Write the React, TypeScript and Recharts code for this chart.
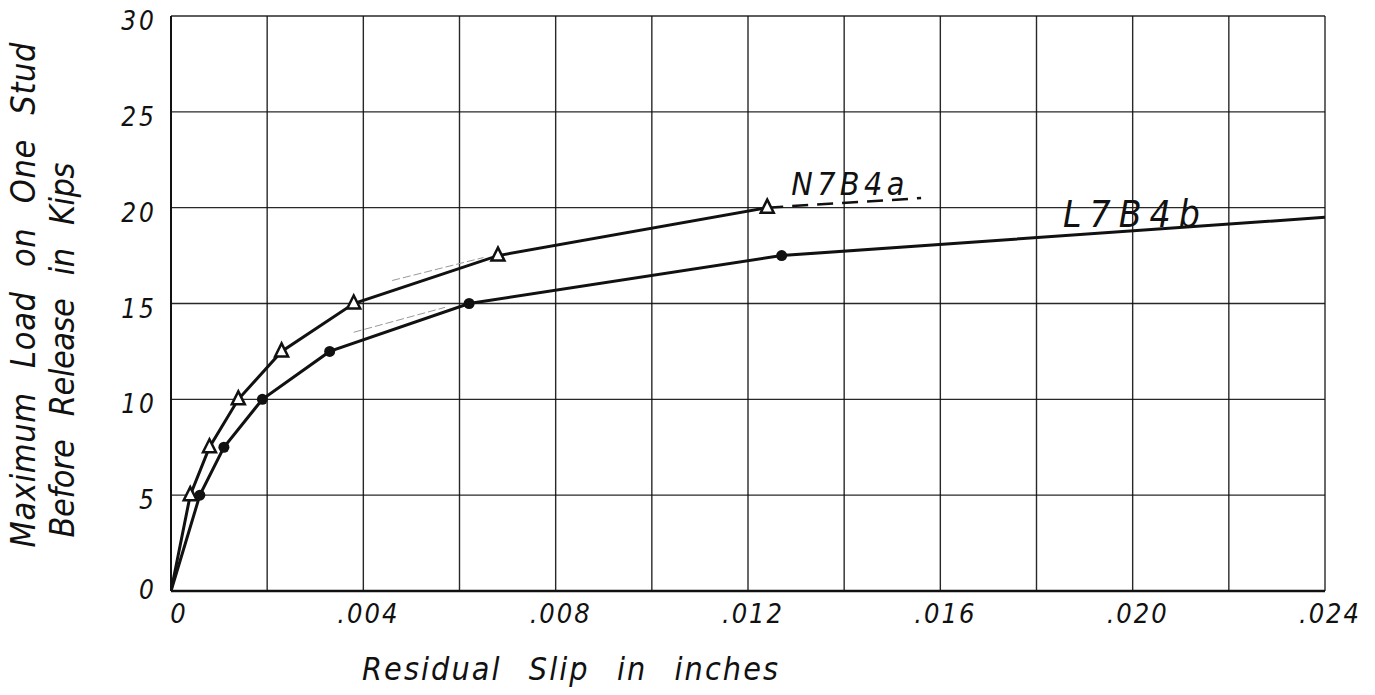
import { LineChart, Line, XAxis, YAxis, CartesianGrid, ReferenceDot, Label } from "recharts";

// axis ticks: grid every .002 in. / 5 kips, labels every .004 in.
const slipTicks = [0, 0.002, 0.004, 0.006, 0.008, 0.01, 0.012, 0.014, 0.016, 0.018, 0.02, 0.022, 0.024];
const loadTicks = [0, 5, 10, 15, 20, 25, 30];

// specimen N7B4a (open triangles)
const n7b4aSlip = [0, 0.0004, 0.0008, 0.0014, 0.0023, 0.0038, 0.0068, 0.0124];
const n7b4aLoad = [0, 5, 7.5, 10, 12.5, 15, 17.5, 20];

// specimen L7B4b (solid dots); the last point is the extended curve, no marker
const l7b4bSlip = [0, 0.0006, 0.0011, 0.0019, 0.0033, 0.0062, 0.0127, 0.024];
const l7b4bLoad = [0, 5, 7.5, 10, 12.5, 15, 17.5, 19.5];

// dashed continuation of N7B4a under its label
const n7b4aExtSlip = [0.0124, 0.0156];
const n7b4aExtLoad = [20, 20.5];

// faint pencil construction lines
const pencilASlip = [0.0046, 0.0065];
const pencilALoad = [16.2, 17.4];
const pencilBSlip = [0.0038, 0.0057];
const pencilBLoad = [13.5, 14.8];

const pts = (xs: number[], ys: number[]) => xs.map((slip, i) => ({ slip, load: ys[i] }));

const FONT = "'DejaVu Sans Condensed', 'DejaVu Sans', sans-serif";
const INK = "#111";

const fmtSlip = (v: number) => (v === 0 ? "0" : v.toFixed(3).replace(/^0/, ""));

function SlipTick(props: any) {
  const { x, y, payload } = props;
  const v = payload.value as number;
  if (Math.round(v * 1000) % 4 !== 0) return <g />;
  return (
    <text x={x + (v === 0 ? 8 : 5)} y={y + 24} textAnchor="middle" fontFamily={FONT} fontStyle="italic"
      fontSize={27} letterSpacing={2} fill={INK}>
      {fmtSlip(v)}
    </text>
  );
}

function LoadTick(props: any) {
  const { x, y, payload } = props;
  return (
    <text x={x - 6} y={y + (payload.value === 0 ? 8 : 14)} textAnchor="end" fontFamily={FONT} fontStyle="italic"
      fontSize={26} letterSpacing={3} fill={INK}>
      {payload.value}
    </text>
  );
}

function Triangle(props: any) {
  const { cx, cy, index } = props;
  if (index === 0 || cx == null) return <g key={`t${index}`} />;
  return (
    <polygon key={`t${index}`} points={`${cx},${cy - 8} ${cx - 6.5},${cy + 5} ${cx + 6.5},${cy + 5}`}
      fill="#fff" stroke={INK} strokeWidth={2.5} strokeLinejoin="miter" />
  );
}

function Dot(props: any) {
  const { cx, cy, index } = props;
  if (index === 0 || index === l7b4bSlip.length - 1 || cx == null) return <g key={`d${index}`} />;
  return <circle key={`d${index}`} cx={cx} cy={cy} r={5.5} fill={INK} />;
}

const curveLabel = (text: string, size: number, len: number) => (p: any) => (
  <text x={p.cx} y={p.cy} fontFamily={FONT} fontStyle="italic" fontSize={size} fill={INK}
    textLength={len} lengthAdjust="spacing">
    {text}
  </text>
);

function YTitle() {
  return (
    <g fontFamily={FONT} fontStyle="italic" fontSize={34} fill={INK} wordSpacing={14}>
      <text transform="translate(35, 295) rotate(-90)" textAnchor="middle" textLength={505} lengthAdjust="spacing">
        Maximum Load on One Stud
      </text>
      <text transform="translate(74, 350) rotate(-90)" textAnchor="middle" textLength={375} lengthAdjust="spacing">
        Before Release in Kips
      </text>
    </g>
  );
}

function XTitle() {
  return (
    <text x={362} y={680} fontFamily={FONT} fontStyle="italic" fontSize={32} fill={INK} wordSpacing={16}
      textLength={416} lengthAdjust="spacing">
      Residual Slip in inches
    </text>
  );
}

export default function App() {
  return (
    <div style={{ margin: -8, width: 1375, height: 695, background: "#fff" }}>
      <LineChart width={1375} height={695} margin={{ top: 16, right: 50, left: 111, bottom: 44 }}>
        <CartesianGrid stroke={INK} strokeWidth={1.4} strokeOpacity={0.9} />
        <XAxis dataKey="slip" type="number" domain={[0, 0.024]} ticks={slipTicks} interval={0}
          tick={<SlipTick />} tickLine={false} height={60} axisLine={{ stroke: INK, strokeWidth: 2.5 }}
          allowDataOverflow>
          <Label content={<XTitle />} />
        </XAxis>
        <YAxis dataKey="load" type="number" domain={[0, 30]} ticks={loadTicks} interval={0}
          tick={<LoadTick />} tickLine={false} width={60} axisLine={{ stroke: INK, strokeWidth: 2 }}>
          <Label content={<YTitle />} />
        </YAxis>

        <Line data={pts(pencilASlip, pencilALoad)} dataKey="load" stroke="#999" strokeWidth={1}
          strokeDasharray="8 3" dot={false} isAnimationActive={false} />
        <Line data={pts(pencilBSlip, pencilBLoad)} dataKey="load" stroke="#999" strokeWidth={1}
          strokeDasharray="8 3" dot={false} isAnimationActive={false} />

        <Line data={pts(n7b4aExtSlip, n7b4aExtLoad)} dataKey="load" stroke={INK} strokeWidth={2.5}
          strokeDasharray="16 9" dot={false} isAnimationActive={false} />
        <Line data={pts(n7b4aSlip, n7b4aLoad)} dataKey="load" name="N7B4a" stroke={INK} strokeWidth={3}
          dot={<Triangle />} activeDot={false} isAnimationActive={false} />
        <Line data={pts(l7b4bSlip, l7b4bLoad)} dataKey="load" name="L7B4b" stroke={INK} strokeWidth={3}
          dot={<Dot />} activeDot={false} isAnimationActive={false} />

        <ReferenceDot x={0.0129} y={20.65} r={0} shape={curveLabel("N7B4a", 32, 113)} />
        <ReferenceDot x={0.01855} y={18.97} r={0} shape={curveLabel("L7B4b", 37, 137)} />
      </LineChart>
    </div>
  );
}
